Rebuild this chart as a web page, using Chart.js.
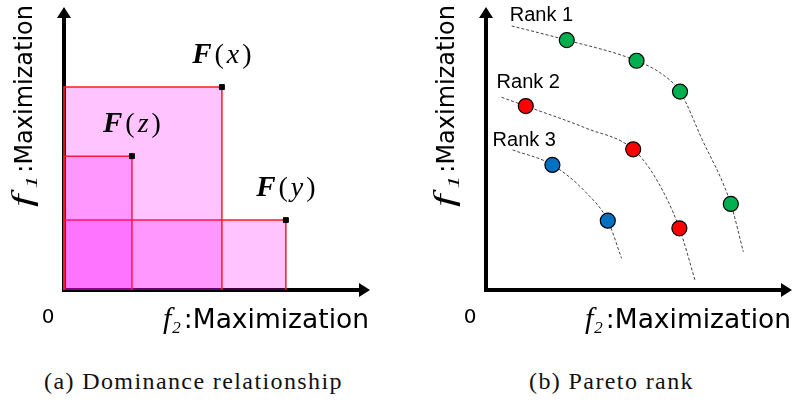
<!DOCTYPE html>
<html>
<head>
<meta charset="utf-8">
<script src="https://cdn.jsdelivr.net/npm/chart.js@4/dist/chart.umd.min.js"></script>
<style>
  body { margin: 0; background: #fff; }
  #wrap { position: relative; width: 793px; height: 401px; overflow: hidden; background: #fff; }
  canvas { position: absolute; top: 0; }
  .cap { position: absolute; top: 368px; font: 24px "Liberation Serif", serif; letter-spacing: 1.4px; color: #111; white-space: nowrap; }
</style>
</head>
<body>
<div id="wrap">
  <canvas id="chartA" width="400" height="340" style="left:0"></canvas>
  <canvas id="chartB" width="393" height="340" style="left:400px"></canvas>
  <div class="cap" style="left:44px">(a) Dominance relationship</div>
  <div class="cap" style="left:529px">(b) Pareto rank</div>
</div>
<script>
// (a) objective vectors F(x), F(z), F(y)
const argNames = ['x', 'z', 'y'];
const f2Values = [51.6, 22.2, 72.5];
const f1Values = [71.7, 47.3, 24.7];

// (b) solutions of each rank
const rank1F2 = [26.4, 49.2, 63.4, 80.0];
const rank1F1 = [88.3, 81.0, 70.1, 30.4];
const rank2F2 = [13.0, 48.1, 63.2];
const rank2F1 = [65.0, 49.7, 21.8];
const rank3F2 = [21.7, 39.8];
const rank3F1 = [44.2, 24.5];

// (b) dashed fronts
const front1F2 = [8.4, 26.4, 49.2, 57.9, 63.4, 70.5, 80.0, 84.1];
const front1F1 = [93.3, 88.3, 81.0, 76.0, 70.1, 53.5, 30.4, 13.5];
const front2F2 = [5.1, 13.0, 32.9, 48.1, 55.8, 63.2, 68.3];
const front2F1 = [68.1, 65.0, 57.1, 49.7, 38.9, 21.8, 3.5];
const front3F2 = [8.7, 21.7, 32.9, 39.8, 44.3];
const front3F1 = [49.5, 44.2, 34.2, 24.5, 11.2];
const rankNames = ['Rank 1', 'Rank 2', 'Rank 3'];

const toXY = (xs, ys) => xs.map((x, i) => ({ x: x, y: ys[i] }));

// axes with arrow heads, drawn under the data
const arrowAxes = {
  id: 'arrowAxes',
  beforeDatasetsDraw(chart) {
    const { ctx, chartArea: a } = chart;
    ctx.save();
    ctx.strokeStyle = '#000';
    ctx.lineWidth = 4;
    ctx.beginPath();
    ctx.moveTo(a.left, a.bottom + 2);
    ctx.lineTo(a.left, a.top + 9);
    ctx.moveTo(a.left - 2, a.bottom);
    ctx.lineTo(a.right - 9, a.bottom);
    ctx.stroke();
    ctx.fillStyle = '#000';
    ctx.beginPath();
    ctx.moveTo(a.left, a.top);
    ctx.lineTo(a.left - 7, a.top + 11);
    ctx.lineTo(a.left + 7, a.top + 11);
    ctx.closePath();
    ctx.moveTo(a.right, a.bottom);
    ctx.lineTo(a.right - 11, a.bottom - 7);
    ctx.lineTo(a.right - 11, a.bottom + 7);
    ctx.closePath();
    ctx.fill();
    ctx.restore();
  }
};

// "f_k:Maximization", ending at the current origin
function drawObjLabel(ctx, sub, size, stretch, gap, fgap) {
  ctx.textAlign = 'left';
  ctx.textBaseline = 'alphabetic';
  ctx.font = size + 'px "DejaVu Sans"';
  const rest = ':Maximization';
  const w = ctx.measureText(rest).width;
  ctx.fillText(rest, -w, 0);
  ctx.save();
  ctx.translate(-w, 0);
  ctx.scale(stretch, 1);
  ctx.font = 'italic 17px "Liberation Serif"';
  const sw = ctx.measureText(sub).width;
  ctx.fillText(sub, -sw - gap, 5);
  ctx.font = 'italic 30px "Liberation Serif"';
  const fw = ctx.measureText('f').width;
  ctx.fillText('f', -sw - gap - fgap - fw, 0);
  ctx.restore();
}

const axisTitles = {
  id: 'axisTitles',
  afterDraw(chart) {
    const { ctx, chartArea: a } = chart;
    ctx.save();
    ctx.fillStyle = '#000';
    ctx.font = '20px "DejaVu Sans"';
    ctx.textAlign = 'center';
    ctx.fillText('0', a.left - 16, a.bottom + 33);
    // x title
    ctx.save();
    ctx.translate(a.right - 1, a.bottom + 38);
    drawObjLabel(ctx, '2', 26.5, 1, 3, 1);
    ctx.restore();
    // y title
    ctx.save();
    ctx.translate(a.left - 32, a.top - 2);
    ctx.rotate(-Math.PI / 2);
    drawObjLabel(ctx, '1', 24, 1.5, 2, 4);
    ctx.restore();
    ctx.restore();
  }
};

function drawFLabel(ctx, cx, baseline, arg) {
  const parts = [
    ['F', 'bold italic 29px "Liberation Serif"'],
    ['(', '28px "Liberation Serif"'],
    [arg, 'italic 28px "Liberation Serif"'],
    [')', '28px "Liberation Serif"']
  ];
  const gap = 3;
  let total = gap * (parts.length - 1);
  parts.forEach(p => { ctx.font = p[1]; p.w = ctx.measureText(p[0]).width; total += p.w; });
  let x = cx - total / 2;
  ctx.textAlign = 'left';
  parts.forEach(p => {
    ctx.font = p[1];
    ctx.fillText(p[0], x, baseline);
    x += p.w + gap;
  });
}

const pointLabels = {
  id: 'pointLabels',
  afterDatasetsDraw(chart) {
    const { ctx } = chart;
    const meta = chart.getDatasetMeta(0);
    ctx.save();
    ctx.fillStyle = '#000';
    meta.data.forEach((pt, i) => drawFLabel(ctx, pt.x, pt.y - 24, argNames[i]));
    ctx.restore();
  }
};

const rankLabels = {
  id: 'rankLabels',
  afterDatasetsDraw(chart, args, opts) {
    const { ctx } = chart;
    ctx.save();
    ctx.fillStyle = '#000';
    ctx.font = '20px "Liberation Sans"';
    ctx.textAlign = 'left';
    opts.lines.forEach((idx, i) => {
      const p = chart.getDatasetMeta(idx).data[0];
      const off = opts.offsets[i];
      ctx.fillText(rankNames[i], p.x + off[0], p.y + off[1]);
    });
    ctx.restore();
  }
};

const hiddenScales = {
  x: { type: 'linear', min: 0, max: 100, display: false },
  y: { type: 'linear', min: 0, max: 100, display: false }
};

const rectFill = 'rgba(255, 0, 255, 0.23)';
const rectSets = f2Values.map((fx, i) => ({
  data: [{ x: 0, y: 0 }, { x: 0, y: f1Values[i] }, { x: fx, y: f1Values[i] }, { x: fx, y: 0 }],
  borderColor: '#ff1a1a',
  borderWidth: 1.5,
  backgroundColor: rectFill,
  fill: 'origin',
  pointRadius: 0,
  tension: 0,
  clip: false
}));

new Chart(document.getElementById('chartA'), {
  type: 'line',
  data: {
    datasets: [{
      data: toXY(f2Values, f1Values),
      showLine: false,
      pointStyle: 'rect',
      pointRadius: 3.5,
      pointBorderWidth: 1,
      pointBackgroundColor: '#000',
      pointBorderColor: '#000',
      clip: false
    }].concat(rectSets)
  },
  options: {
    responsive: false,
    animation: false,
    events: [],
    layout: { autoPadding: false, padding: { left: 64, right: 30, top: 7, bottom: 50 } },
    scales: hiddenScales,
    plugins: { legend: { display: false }, tooltip: { enabled: false } }
  },
  plugins: [arrowAxes, pointLabels, axisTitles]
});

const dotSet = (xs, ys, color) => ({
  data: toXY(xs, ys),
  showLine: false,
  pointRadius: 7.5,
  pointBorderWidth: 1.2,
  pointBackgroundColor: color,
  pointBorderColor: '#000',
  clip: false
});
const frontSet = (xs, ys) => ({
  data: toXY(xs, ys),
  borderColor: '#444',
  borderWidth: 1,
  borderDash: [3, 2],
  pointRadius: 0,
  cubicInterpolationMode: 'monotone',
  fill: false,
  clip: false
});

new Chart(document.getElementById('chartB'), {
  type: 'line',
  data: {
    datasets: [
      dotSet(rank1F2, rank1F1, '#00b050'),
      dotSet(rank2F2, rank2F1, '#ff0000'),
      dotSet(rank3F2, rank3F1, '#0070c0'),
      frontSet(front1F2, front1F1),
      frontSet(front2F2, front2F1),
      frontSet(front3F2, front3F1)
    ]
  },
  options: {
    responsive: false,
    animation: false,
    events: [],
    layout: { autoPadding: false, padding: { left: 86, right: 1, top: 7, bottom: 50 } },
    scales: hiddenScales,
    plugins: {
      legend: { display: false },
      tooltip: { enabled: false },
      rankLabels: { lines: [3, 4, 5], offsets: [[-2, -5], [-5, -9], [-20, -4]] }
    }
  },
  plugins: [arrowAxes, rankLabels, axisTitles]
});
</script>
</body>
</html>
